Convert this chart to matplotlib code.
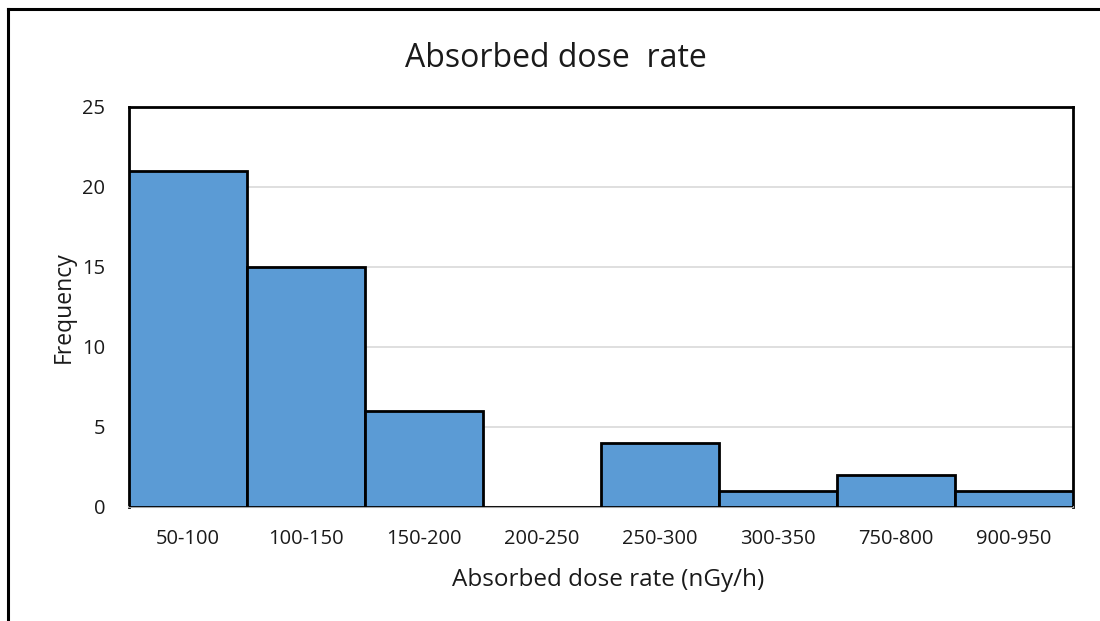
import matplotlib.pyplot as plt
from matplotlib.lines import Line2D

plt.rcParams['font.family'] = ['Open Sans', 'DejaVu Sans']

# dose-rate bins and counts
bins = ["50-100", "100-150", "150-200", "200-250", "250-300", "300-350", "750-800", "900-950"]
counts = [21, 15, 6, 0, 4, 1, 2, 1]
y_ticks = [0, 5, 10, 15, 20, 25]

BAR_COLOR = "#5B9BD5"
GRID_COLOR = "#D9D9D9"
TEXT_COLOR = "#1A1A1A"

fig = plt.figure(figsize=(11, 6.21), dpi=100)
ax = fig.add_axes([0.1173, 0.1836, 0.8582, 0.6441])

x = range(len(bins))
ax.bar(x, counts, width=1.0, color=BAR_COLOR, edgecolor="black", linewidth=2, zorder=3)

ax.set_xlim(-0.5, len(bins) - 0.5)
ax.set_ylim(0, 25)
ax.set_yticks(y_ticks)
ax.set_xticks(list(x))
ax.set_xticklabels(bins)
ax.tick_params(axis="both", length=0, labelsize=14.5, colors=TEXT_COLOR)
ax.tick_params(axis="x", pad=16)
ax.tick_params(axis="y", pad=17)
ax.yaxis.grid(True, color=GRID_COLOR, linewidth=1.2, zorder=0)
ax.set_axisbelow(True)

for side in ("left", "top", "right"):
    ax.spines[side].set_color("black")
    ax.spines[side].set_linewidth(2)
ax.spines["bottom"].set_color("#A6A6A6")
ax.spines["bottom"].set_linewidth(1.5)

ax.set_xlabel("Absorbed dose rate (nGy/h)", fontsize=17.5, color=TEXT_COLOR, labelpad=13)
ax.xaxis.set_label_coords(0.507, -0.153)
ax.set_ylabel("Frequency", fontsize=16.5, color=TEXT_COLOR, labelpad=5)

fig.text(0.505, 0.906, "Absorbed dose  rate", ha="center", va="center",
         fontsize=23, color=TEXT_COLOR)

# chart-area frame (left and top edges, cut off at right/bottom)
fig.add_artist(Line2D([0.0073, 0.0073], [0.0, 0.9855], transform=fig.transFigure,
                      color="black", linewidth=2.2))
fig.add_artist(Line2D([0.0073, 0.998], [0.9855, 0.9855], transform=fig.transFigure,
                      color="black", linewidth=2.2))

fig.savefig("out.png", dpi=100, facecolor="white")
